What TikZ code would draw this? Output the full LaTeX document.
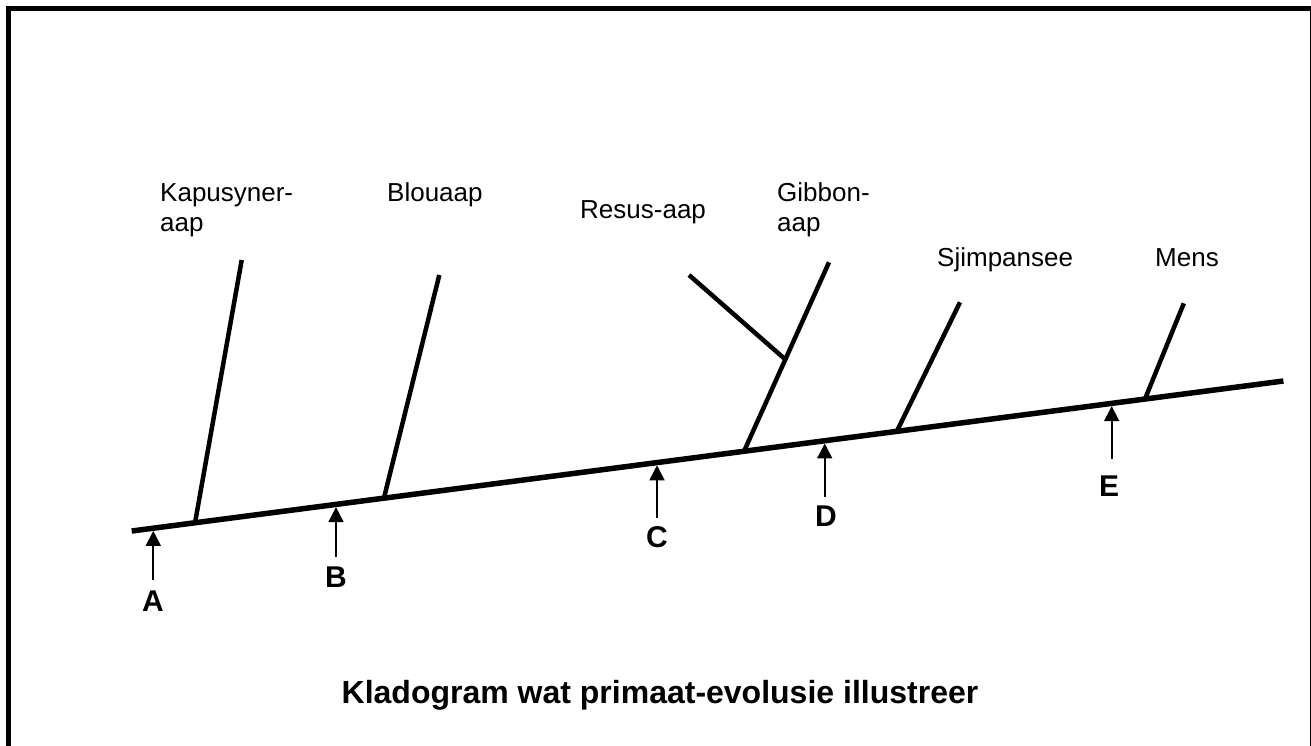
\documentclass[tikz,border=0pt]{standalone}
\usepackage{fontspec}
\setmainfont{Liberation Sans}
\usetikzlibrary{arrows.meta,calc}
\begin{document}
\begin{tikzpicture}[x=1pt,y=-1pt,
  trunkline/.style={line width=5.5pt},
  branchline/.style={line width=4.5pt},
  marker/.style={line width=1.8pt,-{Triangle[length=15pt,width=15pt]},shorten >=2.7pt},
  taxon/.style={font=\fontsize{26}{30}\selectfont, inner sep=0pt, align=left},
  letter/.style={font=\bfseries\fontsize{30}{34}\selectfont, inner sep=0pt},
  titletext/.style={font=\bfseries\fontsize{32}{38}\selectfont, inner sep=0pt}]
\useasboundingbox (0,0) rectangle (1311,745);
\clip (0,0) rectangle (1311,745);
\draw[line width=5pt] (8.5,8.5) rectangle (1312,752);

% trunk
\coordinate (t0) at (131.7,531);
\coordinate (t1) at (1283.4,381);
\draw[trunkline] (t0) -- (t1);

% branch bases on trunk
\coordinate (bK) at ($(t0)!0.055!(t1)$);
\coordinate (bB) at ($(t0)!0.219!(t1)$);
\coordinate (bG) at ($(t0)!0.5317!(t1)$);
\coordinate (bS) at ($(t0)!0.6643!(t1)$);
\coordinate (bM) at ($(t0)!0.8798!(t1)$);

% branch tops
\coordinate (eK) at (241.7,260);
\coordinate (eB) at (439.3,275);
\coordinate (eG) at (829,262.3);
\coordinate (eR) at (689,275);
\coordinate (eS) at (960,302.3);
\coordinate (eM) at (1183.8,303.3);
\coordinate (jR) at ($(bG)!0.486!(eG)$);

\draw[branchline] (bK) -- (eK);
\draw[branchline] (bB) -- (eB);
\draw[branchline] (bG) -- (eG);
\draw[branchline] (jR) -- (eR);
\draw[branchline] (bS) -- (eS);
\draw[branchline] (bM) -- (eM);

% taxon labels
\node[taxon, anchor=north west] (lK) at (160,183) {Kapusyner-\\aap};
\node[taxon, anchor=base west] (lB) at (387,201.7) {Blouaap};
\node[taxon, anchor=base west] (lR) at (580,218.3) {Resus-aap};
\node[taxon, anchor=north west] (lG) at (777,182.7) {Gibbon-\\aap};
\node[taxon, anchor=base west] (lS) at (937,266.7) {Sjimpansee};
\node[taxon, anchor=base west] (lM) at (1155,266.7) {Mens};

% marker points on trunk
\coordinate (pA) at ($(t0)!0.01876!(t1)$);
\coordinate (pB) at ($(t0)!0.1774!(t1)$);
\coordinate (pC) at ($(t0)!0.4561!(t1)$);
\coordinate (pD) at ($(t0)!0.6017!(t1)$);
\coordinate (pE) at ($(t0)!0.8506!(t1)$);

% arrow tails
\coordinate (qA) at (153.3,580);
\coordinate (qB) at (336,557);
\coordinate (qC) at (657,518);
\coordinate (qD) at (824.7,497);
\coordinate (qE) at (1111.7,459);

\draw[marker] (qA) -- (qA |- pA);
\draw[marker] (qB) -- (qB |- pB);
\draw[marker] (qC) -- (qC |- pC);
\draw[marker] (qD) -- (qD |- pD);
\draw[marker] (qE) -- (qE |- pE);

\node[letter, anchor=base] (lA) at (153,611.7) {A};
\node[letter, anchor=base] (lBB) at (336,587) {B};
\node[letter, anchor=base] (lC) at (657,547.5) {C};
\node[letter, anchor=base] (lD) at (826,526.5) {D};
\node[letter, anchor=base] (lE) at (1109,496.7) {E};

\node[titletext, anchor=base] (title) at (660,703) {Kladogram wat primaat-evolusie illustreer};
\end{tikzpicture}
\end{document}
